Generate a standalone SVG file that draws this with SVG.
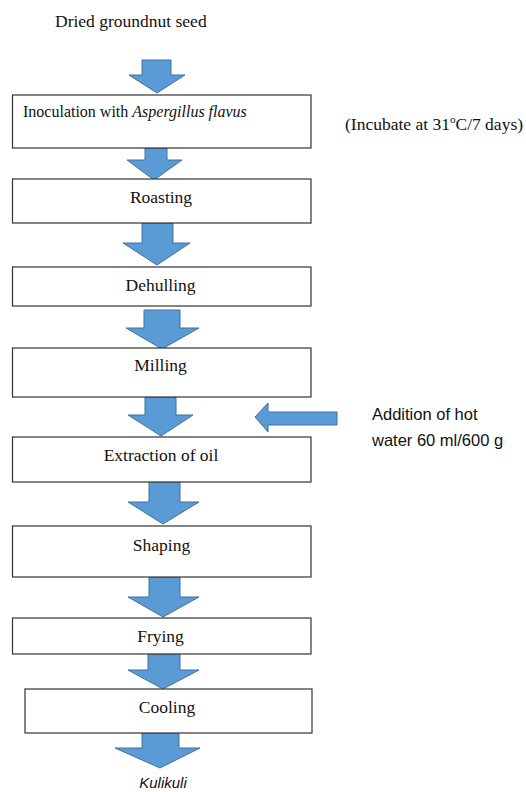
<svg xmlns="http://www.w3.org/2000/svg" width="526" height="792" viewBox="0 0 526 792">
<style>
.box{fill:#fff;stroke:#333;stroke-width:1.2}
.arr{fill:#5B9BD5;stroke:#41719C;stroke-width:1}
.t{font-family:"Liberation Serif","Times New Roman",serif;font-size:17.5px;fill:#111}
.c{text-anchor:middle}
.s{font-family:"Liberation Sans",Arial,sans-serif;font-size:16.5px;fill:#111}
</style>
<rect width="526" height="792" fill="#fff"/>
<g id="connectors">
<path class="arr" d="M142,60 H171 V75 H185 L157,93 L129,75 H142 Z"/>
<path class="arr" d="M145,148 H167 V160 H182 L154,180 L127,160 H145 Z"/>
<path class="arr" d="M142,223 H173 V243 H190 L157,265 L123,243 H142 Z"/>
<path class="arr" d="M144,310 H180 V328 H199 L162,349 L126,328 H144 Z"/>
<path class="arr" d="M145,397 H176 V415 H193 L161,436 L128,415 H145 Z"/>
<path class="arr" d="M149,482 H180 V502 H199 L163,524 L128,502 H149 Z"/>
<path class="arr" d="M149,577 H180 V597 H199 L163,617 L128,597 H149 Z"/>
<path class="arr" d="M148,654 H180 V670 H199 L163,689 L128,670 H148 Z"/>
<path class="arr" d="M142,733 H179 V748 H200 L160,768 L115,748 H142 Z"/>
<path class="arr" d="M337,412 V425 H268 V432 L255,417 L268,403 V412 Z"/>
</g>
<g id="start"><text class="t" x="55" y="27">Dried groundnut seed</text></g>
<g id="inoculation">
<rect class="box" x="12.5" y="95" width="298.5" height="53"/>
<text class="t" x="23" y="117" style="font-size:16px">Inoculation with <tspan font-style="italic">Aspergillus flavus</tspan></text>
</g>
<g id="incubate"><text class="t" x="345" y="130">(Incubate at 31<tspan dy="-7" style="font-size:11px">o</tspan><tspan dy="7">C/7 days)</tspan></text></g>
<g id="roasting">
<rect class="box" x="12.5" y="179" width="298.5" height="44"/>
<text class="t c" x="161" y="203">Roasting</text>
</g>
<g id="dehulling">
<rect class="box" x="12.5" y="267" width="298.5" height="39"/>
<text class="t c" x="160.5" y="291">Dehulling</text>
</g>
<g id="milling">
<rect class="box" x="12.5" y="348" width="298.5" height="49"/>
<text class="t c" x="160.5" y="371">Milling</text>
</g>
<g id="water">
<text class="s" x="372" y="420">Addition of hot</text>
<text class="s" x="372" y="446">water 60 ml/600 g</text>
</g>
<g id="extraction">
<rect class="box" x="12.5" y="437" width="298.5" height="45"/>
<text class="t c" x="161" y="461">Extraction of oil</text>
</g>
<g id="shaping">
<rect class="box" x="12.5" y="526" width="298.5" height="51"/>
<text class="t c" x="161.5" y="551">Shaping</text>
</g>
<g id="frying">
<rect class="box" x="12.5" y="618" width="298.5" height="36"/>
<text class="t c" x="160.5" y="642">Frying</text>
</g>
<g id="cooling">
<rect class="box" x="25" y="689" width="287" height="44"/>
<text class="t c" x="167" y="713">Cooling</text>
</g>
<g id="kulikuli"><text class="s c" x="163" y="788" style="font-size:15px;font-style:italic">Kulikuli</text></g>
</svg>
